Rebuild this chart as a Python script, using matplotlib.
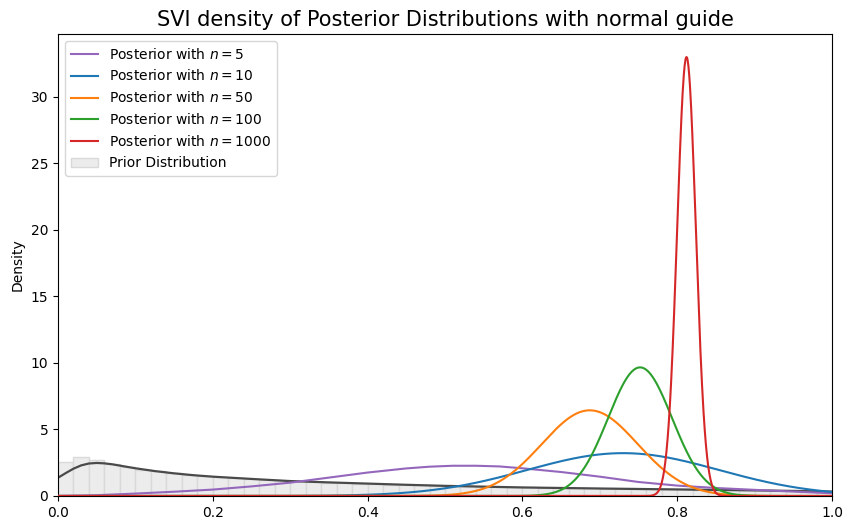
import numpy as np
import matplotlib
matplotlib.use("Agg")
import matplotlib.pyplot as plt
from matplotlib.patches import Patch

# ---- data ----
# prior histogram (50 bins on [0, 1])
prior_bin_edges_lo = 0.0
prior_bin_edges_hi = 1.0
prior_heights = [2.54, 2.95, 2.69, 2.38, 2.16, 1.97, 1.84, 1.69, 1.61, 1.49,
                 1.43, 1.34, 1.29, 1.21, 1.16, 1.09, 1.06, 1.00, 0.98, 0.93,
                 0.91, 0.86, 0.85, 0.79, 0.78, 0.74, 0.73, 0.69, 0.68, 0.64,
                 0.64, 0.60, 0.60, 0.57, 0.57, 0.55, 0.54, 0.52, 0.53, 0.50,
                 0.49, 0.48, 0.47, 0.45, 0.45, 0.42, 0.41, 0.39, 0.37, 0.35]

# prior density curve
prior_kde_x = [0.0, 0.01, 0.02, 0.03, 0.04, 0.05, 0.06, 0.07, 0.08, 0.10, 0.125,
               0.15, 0.175, 0.20, 0.25, 0.30, 0.35, 0.40, 0.45, 0.50, 0.60,
               0.70, 0.80, 0.90, 0.95, 1.0]
prior_kde_y = [1.37, 1.72, 2.05, 2.30, 2.44, 2.48, 2.45, 2.38, 2.28, 2.08, 1.87,
               1.70, 1.56, 1.45, 1.28, 1.12, 1.02, 0.93, 0.84, 0.76, 0.64,
               0.56, 0.49, 0.42, 0.38, 0.33]

# posterior n=5
post5_x = [0.0, 0.05, 0.10, 0.15, 0.20, 0.25, 0.30, 0.35, 0.40, 0.45, 0.48,
           0.51, 0.54, 0.57, 0.60, 0.65, 0.70, 0.75, 0.80, 0.85, 0.90, 0.95, 1.0]
post5_y = [0.01, 0.06, 0.18, 0.32, 0.48, 0.72, 1.00, 1.38, 1.76, 2.07, 2.20,
           2.27, 2.27, 2.22, 2.08, 1.80, 1.45, 1.05, 0.78, 0.60, 0.46, 0.33, 0.20]

# normal-guide posteriors: (label n, mean, sd)
post_n = [10, 50, 100, 1000]
post_mean = [0.730, 0.687, 0.752, 0.812]
post_sd = [0.124, 0.062, 0.0413, 0.0121]
post_colors = ["tab:blue", "tab:orange", "tab:green", "tab:red"]

# ---- plot ----
fig = plt.figure(figsize=(8.53, 5.30), dpi=100)
ax = fig.add_axes([0.068, 0.0642, 0.9074, 0.8716])

nb = len(prior_heights)
edges = np.linspace(prior_bin_edges_lo, prior_bin_edges_hi, nb + 1)
centers = (edges[:-1] + edges[1:]) / 2
ax.bar(centers, prior_heights, width=edges[1] - edges[0], facecolor="#ececec",
       edgecolor="#d9d9d9", linewidth=1.0, zorder=1)
ax.plot(prior_kde_x, prior_kde_y, color="#4a4a4a", lw=1.6, zorder=2)

handles = []
h5, = ax.plot(post5_x, post5_y, color="tab:purple", lw=1.5, zorder=3,
              label=r"Posterior with $n=5$")
handles.append(h5)

xs = np.linspace(0, 1, 2001)
for n, m, s, c in zip(post_n, post_mean, post_sd, post_colors):
    y = np.exp(-0.5 * ((xs - m) / s) ** 2) / (s * np.sqrt(2 * np.pi))
    h, = ax.plot(xs, y, color=c, lw=1.5, zorder=3,
                 label=r"Posterior with $n=%d$" % n)
    handles.append(h)

handles.append(Patch(facecolor="#ececec", edgecolor="#d9d9d9",
                     label="Prior Distribution"))

ax.set_xlim(0, 1)
ax.set_ylim(0, 34.7)
ax.set_yticks([0, 5, 10, 15, 20, 25, 30])
ax.set_ylabel("Density")
ax.set_title("SVI density of Posterior Distributions with normal guide", fontsize=15)
ax.legend(handles=handles, loc="upper left")

fig.savefig("out.png", dpi=100)
